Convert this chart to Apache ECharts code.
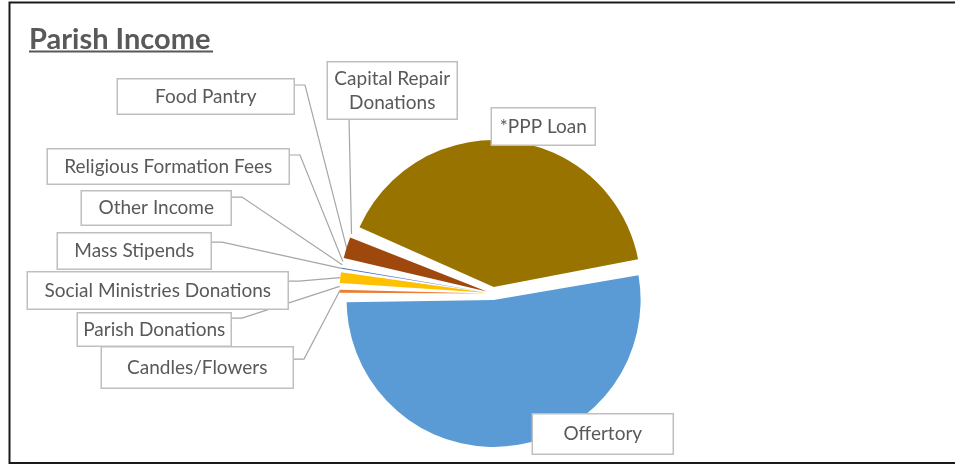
<!DOCTYPE html>
<html><head><meta charset="utf-8">
<script src="https://cdn.jsdelivr.net/npm/echarts@6/dist/echarts.min.js"></script>
<style>html,body{margin:0;padding:0;background:#fff}#c{width:955px;height:466px}</style>
</head><body><div id="c"></div>
<script>
// Categories and shares (% of parish income)
const categories = ['Offertory', 'Candles/Flowers', 'Parish Donations', 'Social Ministries Donations',
  'Mass Stipends', 'Other Income', 'Religious Formation Fees', 'Food Pantry', 'Capital Repair\nDonations', '*PPP Loan'];
const shares = [52.92, 0.67, 0.28, 1.50, 0.44, 0.28, 0.28, 2.67, 0.22, 40.75];
const colors = ['#5B9BD5', '#ED7D31', '#A5A5A5', '#FFC000', '#4472C4', '#70AD47', '#264478', '#9E480E', '#636363', '#997300'];

// Label box layout (styles/positions only)
const labelBoxes = [
  {l: 530, t: 413, w: 141, h: 39, line: false},
  {l: 102, t: 346, w: 192, h: 40, ay: 13},
  {l: 78, t: 312, w: 154, h: 32, ay: 6},
  {l: 28, t: 271, w: 261, h: 36, ay: 10},
  {l: 58, t: 232, w: 154, h: 35, ay: 10},
  {l: 82, t: 190, w: 150, h: 33, ay: 7},
  {l: 48, t: 148, w: 242, h: 34, ay: 7},
  {l: 118, t: 78, w: 177, h: 34, ay: 7},
  {l: 328, t: 61, w: 130, h: 56, bottom: 21},
  {l: 489, t: 107, w: 104, h: 36, line: false}
];

const START = 10.3, OFFSET = 6.5, LH = 24;
const total = shares.reduce(function (a, b) { return a + b; }, 0);
// explode direction of each slice (for compensating label shift)
let cum = 0;
const explode = shares.map(function (v) {
  const mid = (START - (cum + v / 2) / total * 360) * Math.PI / 180;
  cum += v;
  return [Math.cos(mid) * OFFSET, -Math.sin(mid) * OFFSET];
});

const chart = echarts.init(document.getElementById('c'), null, {renderer: 'canvas'});
const data = categories.map(function (name, i) {
  const b = labelBoxes[i];
  const lines = name.split('\n').length;
  const pv = Math.max(0, (b.h - lines * LH) / 2);
  return {
    name: name,
    value: shares[i],
    selected: true,
    itemStyle: {color: colors[i]},
    label: {width: b.w - 1.5, padding: [pv, 0, pv, 0]},
    labelLine: {show: b.line !== false}
  };
});

chart.setOption({
  animation: false,
  title: {
    text: 'Parish Income', left: 24, top: 20,
    textStyle: {fontFamily: 'Lato', fontWeight: 'bold', fontSize: 29, color: '#595959'}
  },
  graphic: [
    {type: 'rect', shape: {x: 9.5, y: 2.5, width: 1000, height: 460.5}, style: {fill: 'none', stroke: '#1a1a1a', lineWidth: 2}, silent: true},
    {type: 'line', shape: {x1: 29, y1: 51.5, x2: 213, y2: 51.5}, style: {stroke: '#595959', lineWidth: 2}, silent: true}
  ],
  series: [{
    type: 'pie',
    center: [493, 293.5],
    radius: 147,
    startAngle: START,
    clockwise: true,
    padAngle: 1.2,
    selectedMode: 'multiple',
    selectedOffset: OFFSET,
    avoidLabelOverlap: false,
    emphasis: {disabled: true},
    select: {itemStyle: {}},
    itemStyle: {borderWidth: 0},
    label: {
      show: true, position: 'outside', fontFamily: 'Lato', fontSize: 19, color: '#595959',
      lineHeight: LH, backgroundColor: '#fff', borderColor: '#BFBFBF', borderWidth: 1.5,
      overflow: 'none'
    },
    labelLine: {show: true, length: 8, length2: 8, lineStyle: {color: '#A6A6A6', width: 1.2}},
    labelLayout: function (p) {
      const i = p.dataIndex;
      const b = labelBoxes[i];
      const r = p.labelRect;
      const o = explode[i];
      const anchorOld = r.x + (p.align === 'right' ? r.width : (p.align === 'center' ? r.width / 2 : 0));
      const anchorNew = b.l + r.width / 2;
      const res = {dx: anchorNew - anchorOld - o[0], dy: b.t - r.y - o[1], align: 'center'};
      if (b.line !== false && p.labelLinePoints) {
        const s = p.labelLinePoints[0];
        let a, e;
        if (b.bottom != null) { a = [b.l + b.bottom, b.t + b.h]; e = [a[0], a[1] + 1]; }
        else { a = [b.l + b.w, b.t + b.ay]; e = [a[0] + 10, a[1]]; }
        res.labelLinePoints = [[s[0], s[1]], [e[0] - o[0], e[1] - o[1]], [a[0] - o[0], a[1] - o[1]]];
      }
      return res;
    },
    data: data
  }]
});
</script></body></html>
